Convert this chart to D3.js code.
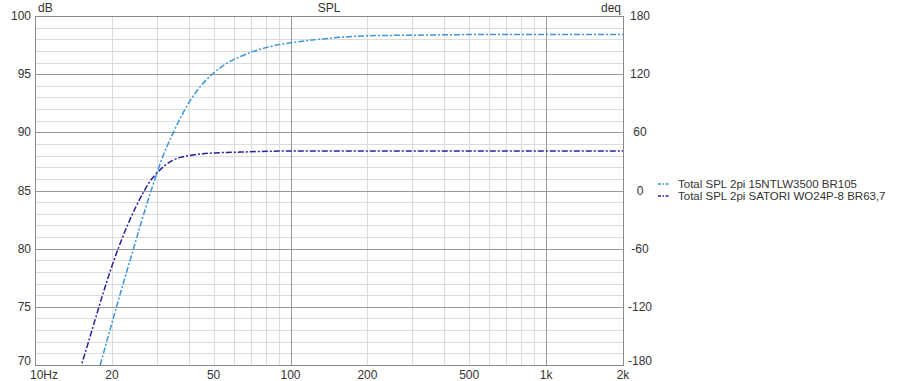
<!DOCTYPE html>
<html><head><meta charset="utf-8">
<script src="https://cdn.jsdelivr.net/npm/d3@7"></script>
<style>
body{margin:0;background:#fff;}
text{font-family:Arial,"Liberation Sans",sans-serif;fill:#333;}
</style></head>
<body><svg id="c" width="900" height="381"></svg>
<script>
// ---- data ----
const xTickValues = [10, 20, 50, 100, 200, 500, 1000, 2000];
const xTickLabels = ["10Hz", "20", "50", "100", "200", "500", "1k", "2k"];
const yTicksLeft = [70, 75, 80, 85, 90, 95, 100];
const yTicksRight = [-180, -120, -60, 0, 60, 120, 180];
const seriesNames = ["Total SPL 2pi 15NTLW3500 BR105", "Total SPL 2pi SATORI WO24P-8 BR63,7"];
const seriesColors = ["#3a96dc", "#23239a"];
// frequency (Hz), SPL (dB)
const freq1 = [17.0, 18.0, 20.0, 22.0, 24.0, 26.0, 28.0, 30.0, 32.0, 34.3, 37.0, 40.4, 45.0, 50.0, 56.0, 63.4, 75.0, 88.3, 100, 130, 200, 300, 500, 2000];
const spl1  = [68.0, 70.0, 73.6, 76.8, 79.6, 82.2, 84.5, 86.5, 88.2, 89.7, 91.2, 92.7, 94.1, 95.1, 95.9, 96.5, 97.1, 97.5, 97.7, 98.0, 98.3, 98.35, 98.4, 98.4];
const freq2 = [14.5, 15.2, 16.0, 17.2, 18.5, 20.0, 21.5, 23.0, 24.7, 26.5, 28.2, 30.0, 32.0, 34.0, 37.0, 40.0, 48.0, 63.5, 100, 200, 500, 1000, 2000];
const spl2  = [68.5, 70.0, 71.6, 73.9, 76.2, 78.5, 80.4, 82.0, 83.5, 84.8, 85.8, 86.5, 87.1, 87.5, 87.85, 88.0, 88.2, 88.3, 88.4, 88.4, 88.4, 88.4, 88.4];

// ---- layout ----
const L = 35, R = 623, T = 16, B = 365;
const svg = d3.select("#c");
const x = d3.scaleLog().domain([10, 2000]).range([L, R]);
const y = d3.scaleLinear().domain([70, 100]).range([B, T]);
const yR = d3.scaleLinear().domain([-180, 180]).range([B, T]);

// grid
const g = svg.append("g");
const minorX = [];
[10, 100, 1000].forEach(d => { for (let k = 2; k <= 9; k++) if (d * k <= 2000) minorX.push(d * k); });
g.selectAll(".mx").data(minorX).enter().append("line")
  .attr("x1", d => Math.round(x(d)) + 0.5).attr("x2", d => Math.round(x(d)) + 0.5)
  .attr("y1", T).attr("y2", B).attr("stroke", "#dcdcdc").attr("stroke-width", 1);
const minorY = d3.range(71, 100).filter(d => d % 5 !== 0);
g.selectAll(".my").data(minorY).enter().append("line")
  .attr("y1", d => Math.round(y(d)) + 0.5).attr("y2", d => Math.round(y(d)) + 0.5)
  .attr("x1", L).attr("x2", R).attr("stroke", "#dcdcdc").attr("stroke-width", 1);
g.selectAll(".Mx").data([100, 1000]).enter().append("line")
  .attr("x1", d => Math.round(x(d)) + 0.5).attr("x2", d => Math.round(x(d)) + 0.5)
  .attr("y1", T).attr("y2", B).attr("stroke", "#999").attr("stroke-width", 1);
g.selectAll(".My").data(yTicksLeft.filter(d => d > 70 && d < 100)).enter().append("line")
  .attr("y1", d => Math.round(y(d)) + 0.5).attr("y2", d => Math.round(y(d)) + 0.5)
  .attr("x1", L).attr("x2", R).attr("stroke", "#999").attr("stroke-width", 1);
svg.append("rect").attr("x", L + 0.5).attr("y", T + 0.5).attr("width", R - L).attr("height", B - T)
  .attr("fill", "none").attr("stroke", "#8a8a8a").attr("stroke-width", 1);

// curves
svg.append("clipPath").attr("id", "pc").append("rect")
  .attr("x", L).attr("y", T).attr("width", R - L).attr("height", B - T);
const line = d3.line().curve(d3.curveMonotoneX).x(d => x(d[0])).y(d => y(d[1]));
const data = [d3.zip(freq1, spl1), d3.zip(freq2, spl2)];
data.forEach((dd, i) => {
  svg.append("path").attr("d", line(dd)).attr("clip-path", "url(#pc)")
    .attr("fill", "none").attr("stroke", seriesColors[i]).attr("stroke-width", 1.5)
    .attr("stroke-dasharray", "6,2,2,2");
});

// axes labels
const fs = 12;
svg.selectAll(".xl").data(xTickValues).enter().append("text")
  .attr("x", (d, i) => i === 0 ? 30 : x(d))
  .attr("y", 379).attr("font-size", fs)
  .attr("text-anchor", (d, i) => i === 0 ? "start" : "middle")
  .text((d, i) => xTickLabels[i]);
svg.selectAll(".yl").data(yTicksLeft).enter().append("text")
  .attr("x", 31).attr("y", d => d === 70 ? y(d) : y(d) + 4).attr("font-size", fs)
  .attr("text-anchor", "end").text(d => d);
svg.selectAll(".yr").data(yTicksRight).enter().append("text")
  .attr("x", 640).attr("y", d => d === -180 ? yR(d) : yR(d) + 4).attr("font-size", fs)
  .attr("text-anchor", "middle").text(d => d);
svg.append("text").attr("x", 38).attr("y", 12).attr("font-size", fs).text("dB");
svg.append("text").attr("x", 329).attr("y", 12).attr("font-size", fs).attr("text-anchor", "middle").text("SPL");
svg.append("text").attr("x", 621).attr("y", 12).attr("font-size", fs).attr("text-anchor", "end").text("deq");

// legend
seriesNames.forEach((n, i) => {
  const yy = 184 + i * 12;
  svg.append("line").attr("x1", 658).attr("x2", 669).attr("y1", yy).attr("y2", yy)
    .attr("stroke", seriesColors[i]).attr("stroke-width", 1.5).attr("stroke-dasharray", "3,1.5,1.5,1.5");
  svg.append("text").attr("x", 678).attr("y", yy + 4).attr("font-size", 11.5).text(n);
});
</script></body></html>
